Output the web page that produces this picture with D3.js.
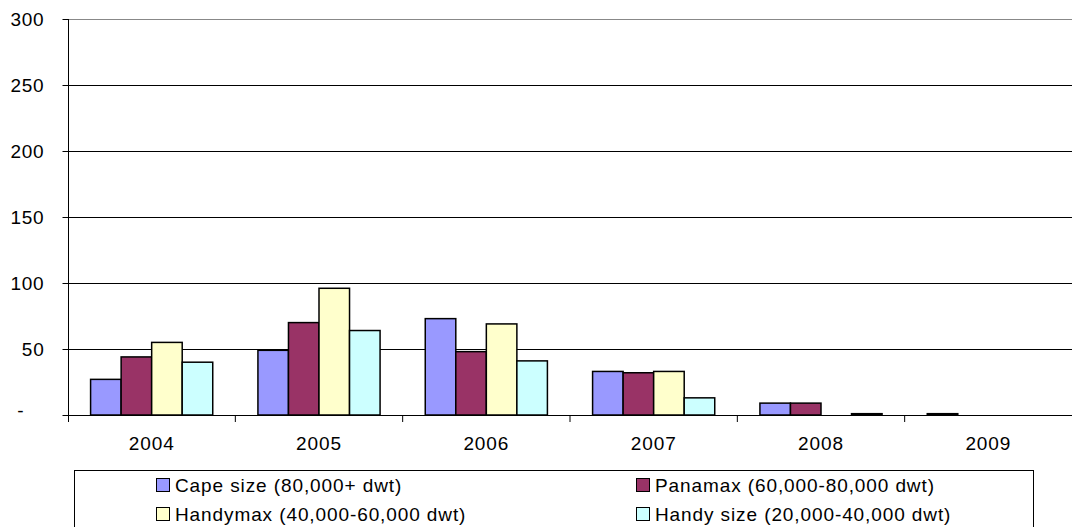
<!DOCTYPE html>
<html><head><meta charset="utf-8">
<script src="https://cdn.jsdelivr.net/npm/d3@7"></script>
<style>body{margin:0;background:#fff}svg{display:block}text{font-family:"Liberation Sans",Arial,sans-serif}</style>
</head><body>
<svg id="c" width="1072" height="527"></svg>
<script>
const years = ["2004","2005","2006","2007","2008","2009"];
const seriesNames = ["Cape size (80,000+ dwt)","Panamax (60,000-80,000 dwt)","Handymax (40,000-60,000 dwt)","Handy size (20,000-40,000 dwt)"];
const capeSize = [27,49,73,33,9,1];
const panamax = [44,70,48,32,9,0];
const handymax = [55,96,69,33,0,0];
const handySize = [40,64,41,13,1,0];
const colors = ["#9999FF","#993366","#FFFFCC","#CCFFFF"];
const yTicks = [0,50,100,150,200,250,300];

const svg = d3.select("#c");
const L=68, T=19, R=1072, B=415;
const FS=19;
const x0 = d3.scaleBand().domain(years).range([L,R]).paddingInner(0.27).paddingOuter(0.135);
const x1 = d3.scaleBand().domain(d3.range(4)).range([0,x0.bandwidth()]);
const y = d3.scaleLinear().domain([0,300]).range([B,T]);
const allSeries=[capeSize,panamax,handymax,handySize];

// gridlines
svg.append("g").selectAll("line").data(yTicks.filter(d=>d>0)).join("line")
  .attr("x1",L).attr("x2",R).attr("y1",d=>y(d)+0.5).attr("y2",d=>y(d)+0.5)
  .attr("stroke",d=>d===300?"#888":"#000").attr("stroke-width",1);

// bars
const g = svg.append("g");
years.forEach((yr,i)=>{
  allSeries.forEach((s,j)=>{
    const v=s[i]; if(v<=0) return;
    g.append("rect").attr("x",x0(yr)+x1(j)).attr("y",y(v)).attr("width",x1.bandwidth()).attr("height",B-y(v))
     .attr("fill",colors[j]).attr("stroke","#000").attr("stroke-width",1.5);
  });
});

// y axis
const ya = svg.append("g").attr("transform",`translate(${L+0.5},0)`)
  .call(d3.axisLeft(y).tickValues(yTicks).tickSize(6).tickPadding(18).tickFormat(d=>d===0?"-":d));
ya.select(".domain").attr("stroke","#000").attr("d",`M0,${T}V${B+7}`);
ya.selectAll("text").attr("font-size",FS).attr("letter-spacing","0.8px").attr("fill","#000").attr("font-family","Liberation Sans, Arial, sans-serif");
ya.selectAll(".tick").filter(d=>d===0).select("text").attr("x",-44).attr("dy","0.1em");
ya.selectAll(".tick line").attr("stroke","#000");

// x axis
const xa = svg.append("g").attr("transform",`translate(0,${B+0.5})`)
  .call(d3.axisBottom(x0).tickSize(0).tickPadding(21));
xa.select(".domain").remove();
xa.selectAll("text").attr("font-size",FS).attr("fill","#000").attr("font-family","Liberation Sans, Arial, sans-serif").attr("letter-spacing","0.9px");
svg.append("line").attr("x1",L).attr("x2",R).attr("y1",B+0.5).attr("y2",B+0.5).attr("stroke","#000");
const step = x0.step();
svg.append("g").selectAll("line").data(d3.range(1,6)).join("line")
  .attr("x1",d=>L+d*step).attr("x2",d=>L+d*step).attr("y1",B).attr("y2",B+7).attr("stroke","#000");

// legend
svg.append("rect").attr("x",74.5).attr("y",470.5).attr("width",959).attr("height",80).attr("fill","#fff").attr("stroke","#000");
const pos=[[156,485],[636,485],[156,514],[636,514]];
seriesNames.forEach((n,j)=>{
  const [px,py]=pos[j];
  svg.append("rect").attr("x",px+0.5).attr("y",py-6.5).attr("width",13).attr("height",13).attr("fill",colors[j]).attr("stroke","#000");
  svg.append("text").attr("x",px+19).attr("y",py+6.5).attr("font-size",FS).attr("letter-spacing","0.9px").text(n);
});
</script>
</body></html>
